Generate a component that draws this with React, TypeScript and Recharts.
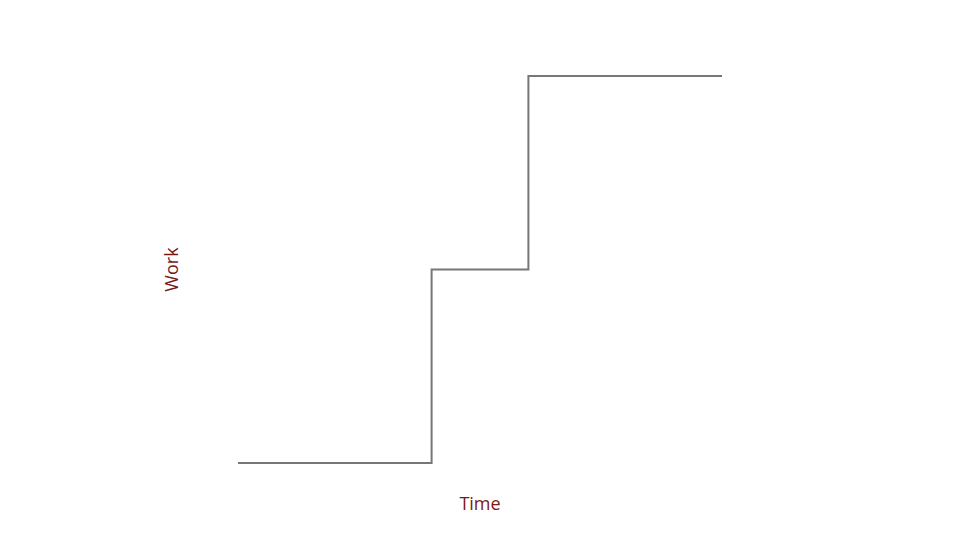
import React from 'react';
import { LineChart, Line, XAxis, YAxis } from 'recharts';

const times = [0, 2, 3, 5];
const work = [0, 1, 2, 2];
const xLabel = 'Time';
const yLabel = 'Work';

const data = times.map((t, i) => ({ t, w: work[i] }));

const labelStyle = { fill: '#7a1717', fontSize: 18, fontFamily: 'Open Sans, sans-serif' };

export default function App() {
  return (
    <div style={{ position: 'absolute', left: 0, top: 0, width: 960, height: 540, background: '#fff' }}>
      <LineChart width={960} height={540} data={data} margin={{ top: 76, right: 238, bottom: 0, left: 106 }}>
        <XAxis
          dataKey="t"
          type="number"
          domain={[0, 5]}
          height={77}
          axisLine={false}
          tickLine={false}
          tick={false}
          label={{ value: xLabel, position: 'center', dy: 2, style: labelStyle }}
        />
        <YAxis
          type="number"
          domain={[0, 2]}
          width={132}
          axisLine={false}
          tickLine={false}
          tick={false}
          label={{ value: yLabel, position: 'center', angle: -90, style: labelStyle }}
        />
        <Line
          type="stepAfter"
          dataKey="w"
          stroke="#777777"
          strokeWidth={2}
          dot={false}
          activeDot={false}
          isAnimationActive={false}
        />
      </LineChart>
    </div>
  );
}
